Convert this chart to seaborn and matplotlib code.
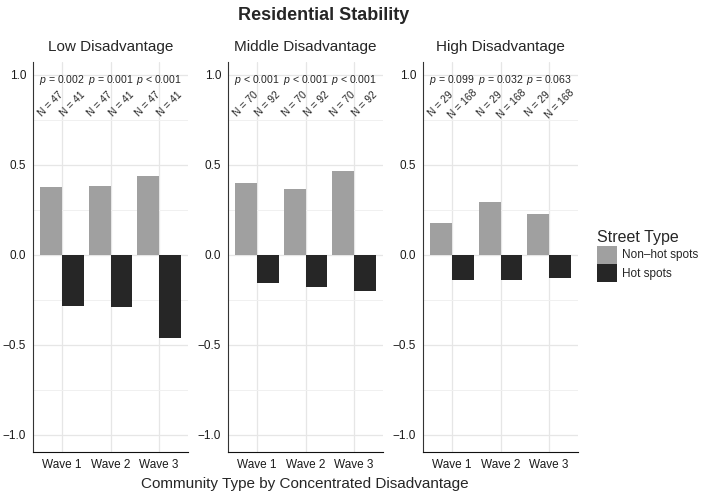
import pandas as pd
import matplotlib.pyplot as plt
import seaborn as sns
from matplotlib.patches import Patch
from matplotlib.ticker import MultipleLocator

# ---------------------------------------------------------
# Data
# ---------------------------------------------------------
waves = ["Wave 1", "Wave 2", "Wave 3"]
panels = ["Low Disadvantage", "Middle Disadvantage", "High Disadvantage"]
street_types = ["Non\u2013hot spots", "Hot spots"]

nonhot_low = [0.374, 0.380, 0.437]
hot_low = [-0.287, -0.290, -0.460]
nonhot_mid = [0.396, 0.364, 0.463]
hot_mid = [-0.159, -0.177, -0.200]
nonhot_high = [0.179, 0.291, 0.226]
hot_high = [-0.142, -0.140, -0.129]

p_low = ["p = 0.002", "p = 0.001", "p < 0.001"]
p_mid = ["p < 0.001", "p < 0.001", "p < 0.001"]
p_high = ["p = 0.099", "p = 0.032", "p = 0.063"]

n_low = [47, 41]
n_mid = [70, 92]
n_high = [29, 168]

y_ticks = [-1.0, -0.5, 0.0, 0.5, 1.0]
y_ticklabels = ["\u22121.0", "\u22120.5", "0.0", "0.5", "1.0"]

colors = ["#a0a0a0", "#262626"]

rows = []
for panel, nh, h in zip(panels, [nonhot_low, nonhot_mid, nonhot_high], [hot_low, hot_mid, hot_high]):
    for w, a, b in zip(waves, nh, h):
        rows.append((panel, w, street_types[0], a))
        rows.append((panel, w, street_types[1], b))
df = pd.DataFrame(rows, columns=["panel", "wave", "street", "value"])

p_labels = dict(zip(panels, [p_low, p_mid, p_high]))
n_labels = dict(zip(panels, [n_low, n_mid, n_high]))

# ---------------------------------------------------------
# Plot
# ---------------------------------------------------------
sns.set_style("white")
plt.rcParams["font.family"] = ["Liberation Sans", "DejaVu Sans"]
plt.rcParams["mathtext.fontset"] = "custom"
plt.rcParams["mathtext.rm"] = "Liberation Sans"
plt.rcParams["mathtext.it"] = "Liberation Sans:italic"

fig = plt.figure(figsize=(7.05, 4.97), dpi=100)
W, H = 705, 497
lefts = [33, 228, 423]
axes = []
for i, panel in enumerate(panels):
    ax = fig.add_axes([lefts[i] / W, 1 - 452 / H, 155 / W, 390 / H])
    axes.append(ax)
    sub = df[df["panel"] == panel]
    sns.barplot(data=sub, x="wave", y="value", hue="street", hue_order=street_types,
                order=waves, palette=colors, width=0.9, gap=0, ax=ax,
                errorbar=None, legend=False, saturation=1, linewidth=0, zorder=3)
    ax.set_xlim(-0.6, 2.6)
    ax.set_ylim(-1.095, 1.07)
    ax.set_yticks(y_ticks)
    ax.set_yticklabels(y_ticklabels)
    ax.yaxis.set_minor_locator(MultipleLocator(0.25))
    ax.grid(True, which="major", axis="both", color="#e6e6e6", linewidth=0.9, zorder=0)
    ax.grid(True, which="minor", axis="y", color="#f0f0f0", linewidth=0.7, zorder=0)
    ax.set_axisbelow(True)
    for s in ["top", "right"]:
        ax.spines[s].set_visible(False)
    ax.spines["left"].set_color("#333333")
    ax.spines["bottom"].set_color("#111111")
    ax.tick_params(axis="both", which="both", length=0, labelsize=8.5, colors="#1a1a1a", pad=5)
    ax.set_xlabel("")
    ax.set_ylabel("")
    ax.set_title(panel, fontsize=11, pad=8)

    for j, w in enumerate(waves):
        txt = p_labels[panel][j].replace("p", "$p$", 1)
        ax.text(j, 0.968, txt, ha="center", va="center", fontsize=7.6)
        for k, n in enumerate(n_labels[panel]):
            xpos = j - 0.225 + 0.45 * k
            ax.text(xpos, 0.835, f"N = {n}", ha="center", va="center",
                    rotation=45, rotation_mode="anchor", fontsize=7.4)

fig.text(324 / W, 1 - 15 / H, "Residential Stability", ha="center", va="center",
         fontsize=13, fontweight="bold")
fig.text(305 / W, 1 - 484 / H, "Community Type by Concentrated Disadvantage",
         ha="center", va="center", fontsize=11)

handles = [Patch(facecolor=c, edgecolor="none") for c in colors]
leg = fig.legend(handles, street_types, title="Street Type", loc="center left",
                 bbox_to_anchor=(597 / W, 1 - 256 / H), frameon=False, fontsize=8.5,
                 title_fontsize=11.5, handlelength=1.7, handleheight=1.95,
                 handletextpad=0.4, labelspacing=0.05, borderpad=0.0,
                 borderaxespad=0.0)
leg._legend_box.align = "left"

fig.savefig("out.png", dpi=100)
